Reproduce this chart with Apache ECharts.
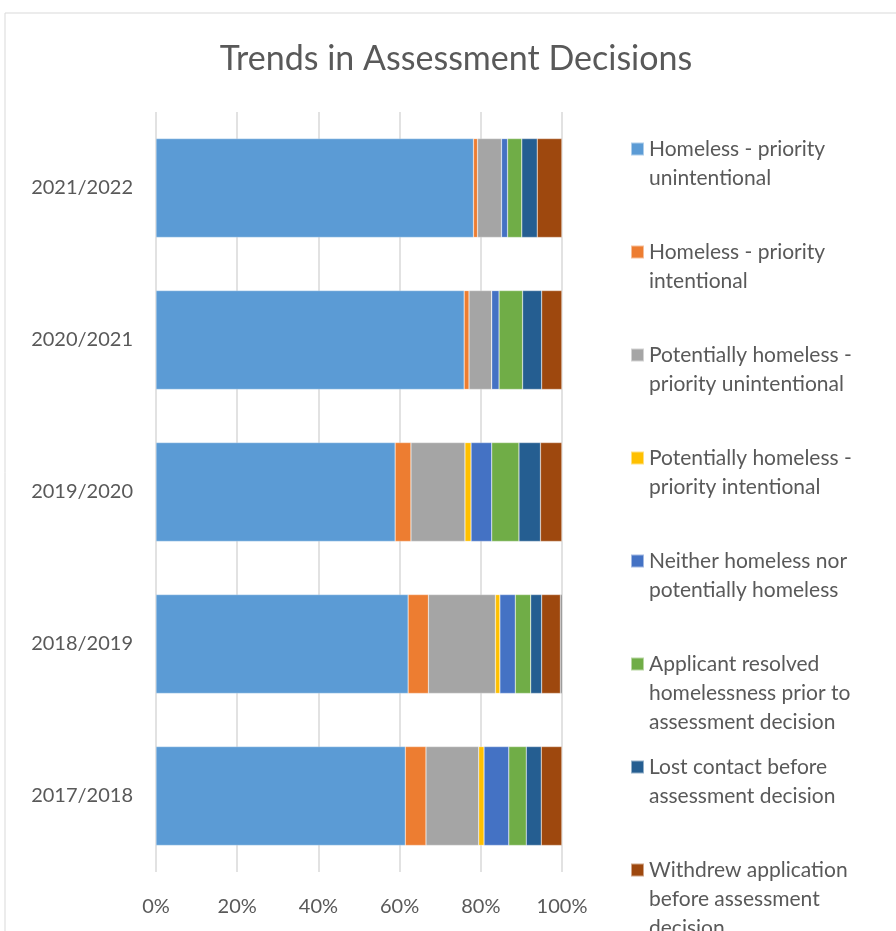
<!DOCTYPE html>
<html>
<head>
<meta charset="utf-8">
<script src="https://cdn.jsdelivr.net/npm/echarts@6/dist/echarts.min.js"></script>
<style>
  html, body { margin: 0; padding: 0; background: #fff; }
  #chart { width: 896px; height: 931px; }
</style>
</head>
<body>
<div id="chart"></div>
<script>
// years, bottom to top
var years = ['2017/2018', '2018/2019', '2019/2020', '2020/2021', '2021/2022'];

// share of decisions (%) per year
var homelessUnintentional = [61.4, 62.1, 58.9, 75.9, 78.2];
var homelessIntentional = [5.1, 5.0, 3.9, 1.2, 1.0];
var potentialUnintentional = [13.0, 16.5, 13.3, 5.6, 5.9];
var potentialIntentional = [1.3, 1.1, 1.5, 0, 0];
var neitherHomeless = [6.1, 3.8, 5.1, 1.8, 1.5];
var applicantResolved = [4.3, 3.8, 6.7, 5.8, 3.5];
var lostContact = [3.7, 2.7, 5.3, 4.7, 3.8];
var withdrew = [5.1, 4.6, 5.3, 5.0, 6.1];
var otherDecision = [0, 0.4, 0, 0, 0]; // legend entry is cut off in the original

var xTicks = [0, 20, 40, 60, 80, 100];

var seriesList = [
  { name: 'Homeless - priority unintentional', label: 'Homeless - priority\nunintentional', data: homelessUnintentional, color: '#5B9BD5' },
  { name: 'Homeless - priority intentional', label: 'Homeless - priority\nintentional', data: homelessIntentional, color: '#ED7D31' },
  { name: 'Potentially homeless - priority unintentional', label: 'Potentially homeless -\npriority unintentional', data: potentialUnintentional, color: '#A5A5A5' },
  { name: 'Potentially homeless - priority intentional', label: 'Potentially homeless -\npriority intentional', data: potentialIntentional, color: '#FFC000' },
  { name: 'Neither homeless nor potentially homeless', label: 'Neither homeless nor\npotentially homeless', data: neitherHomeless, color: '#4472C4' },
  { name: 'Applicant resolved homelessness prior to assessment decision', label: 'Applicant resolved\nhomelessness prior to\nassessment decision', data: applicantResolved, color: '#70AD47' },
  { name: 'Lost contact before assessment decision', label: 'Lost contact before\nassessment decision', data: lostContact, color: '#255E91' },
  { name: 'Withdrew application before assessment decision', label: 'Withdrew application\nbefore assessment\ndecision', data: withdrew, color: '#9E480E' },
  { name: 'Other', label: 'Other', data: otherDecision, color: '#636363' }
];

var font = 'Lato, "Open Sans", sans-serif';
var textColor = '#595959';
var lineH = 29;

// one legend per entry so that entries are evenly spaced like the original;
// blank lines in front keep the marker level with the first text line
var legends = [];
for (var i = 0; i < 8; i++) {
  var lines = seriesList[i].label.split('\n').length;
  var padded = new Array(lines).join('\n') + seriesList[i].label;
  var iconY = 149 + i * 103; // centre of first text line
  legends.push({
    data: [seriesList[i].name],
    left: 630,
    top: iconY - (2 * lines - 1) * lineH / 2,
    padding: 0,
    itemWidth: 13,
    itemHeight: 13,
    itemGap: 8,
    icon: 'rect',
    selectedMode: false,
    formatter: (function (txt) { return function () { return txt; }; })(padded),
    textStyle: { fontFamily: font, fontSize: 21, color: textColor, lineHeight: lineH }
  });
}

var chart = echarts.init(document.getElementById('chart'));
chart.setOption({
  backgroundColor: '#fff',
  animation: false,
  title: {
    text: 'Trends in Assessment Decisions',
    left: 451,
    textAlign: 'center',
    top: 37,
    textStyle: { fontFamily: font, fontSize: 34, fontWeight: 'normal', color: textColor }
  },
  graphic: [{
    type: 'rect',
    shape: { x: 5, y: 13, width: 1000, height: 1000 },
    style: { fill: 'none', stroke: '#d9d9d9', lineWidth: 1 },
    silent: true,
    z: -1
  }],
  legend: legends,
  grid: { left: 156, right: 334, top: 112, bottom: 59 },
  xAxis: {
    type: 'value',
    min: xTicks[0],
    max: xTicks[xTicks.length - 1],
    interval: xTicks[1] - xTicks[0],
    axisLine: { show: false },
    axisTick: { show: false },
    splitLine: { lineStyle: { color: '#d9d9d9', width: 1.5 } },
    axisLabel: { formatter: '{value}%', margin: 25, fontFamily: font, fontSize: 20, color: textColor }
  },
  yAxis: {
    type: 'category',
    data: years,
    axisLine: { show: false },
    axisTick: { show: false },
    axisLabel: { margin: 23, fontFamily: font, fontSize: 20, color: textColor }
  },
  series: seriesList.map(function (s) {
    return {
      name: s.name,
      type: 'bar',
      stack: 'total',
      data: s.data,
      barCategoryGap: '35%',
      itemStyle: { color: s.color, borderColor: 'rgba(255,255,255,0.5)', borderWidth: 0.5 }
    };
  })
});
</script>
</body>
</html>
